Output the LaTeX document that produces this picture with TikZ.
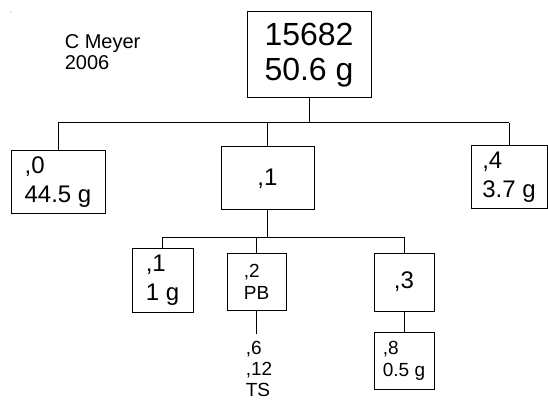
\documentclass[tikz,border=0pt]{standalone}
\usepackage{fontspec}
\setmainfont{Liberation Sans}
\usetikzlibrary{positioning}

\begin{document}
\begin{tikzpicture}[x=1pt,y=-1pt,line width=1pt,
  box/.style={draw,align=left,inner sep=0pt},
  big/.style={font=\fontsize{32}{35}\selectfont},
  mid/.style={font=\fontsize{24}{29}\selectfont},
  small/.style={font=\fontsize{19}{22}\selectfont}]
\useasboundingbox (0,0) rectangle (548,403);
% Root and author
\node[box,big,minimum width=124pt,minimum height=86pt] (root) at (309,55) {15682\\50.6 g};
\node[align=left,anchor=west,font=\fontsize{20}{21}\selectfont] (author) at (61,52) {C Meyer\\2006};
\fill[gray] (11,12) circle (0.6);
% First level
\node[box,mid,minimum width=94pt,minimum height=63pt] (c0) at (58,182.5) {,0\\44.5 g};
\node[box,mid,minimum width=93pt,minimum height=63pt] (c1) at (267.5,178.5) {,1};
\node[box,mid,minimum width=76pt,minimum height=63pt] (c4) at (509,177.5) {,4\\3.7 g};
% Second level
\node[box,mid,minimum width=61pt,minimum height=64pt] (c11) at (162.5,280) {,1\\1 g};
\node[box,small,minimum width=59pt,minimum height=57pt] (c12) at (256.5,281.5) {,2\\PB};
\node[box,mid,minimum width=60pt,minimum height=58pt] (c13) at (404,282) {,3};
\node[box,small,minimum width=60pt,minimum height=57pt] (c18) at (404,360.5) {,8\\0.5 g};
\node[align=left,inner sep=0pt,font=\fontsize{19}{21}\selectfont] (ts) at (259,369) {,6\\,12\\TS};
% Connectors
\coordinate (j0) at (root.south |- 0,123);
\coordinate (j1) at (c1.south |- 0,237);
\draw (root.south) -- (j0);
\draw (c0.north |- j0) -- (c4.north |- j0);
\draw (c0.north |- j0) -- (c0.north);
\draw (c1.north |- j0) -- (c1.north);
\draw (c4.north |- j0) -- (c4.north);
\draw (c1.south) -- (j1);
\draw (c11.north |- j1) -- (c13.north |- j1);
\draw (c11.north |- j1) -- (c11.north);
\draw (c12.north |- j1) -- (c12.north);
\draw (c13.north |- j1) -- (c13.north);
\draw (c13.south) -- (c18.north);
\draw (c12.south) -- ([yshift=7pt]c12.south |- ts.north);
\end{tikzpicture}
\end{document}
